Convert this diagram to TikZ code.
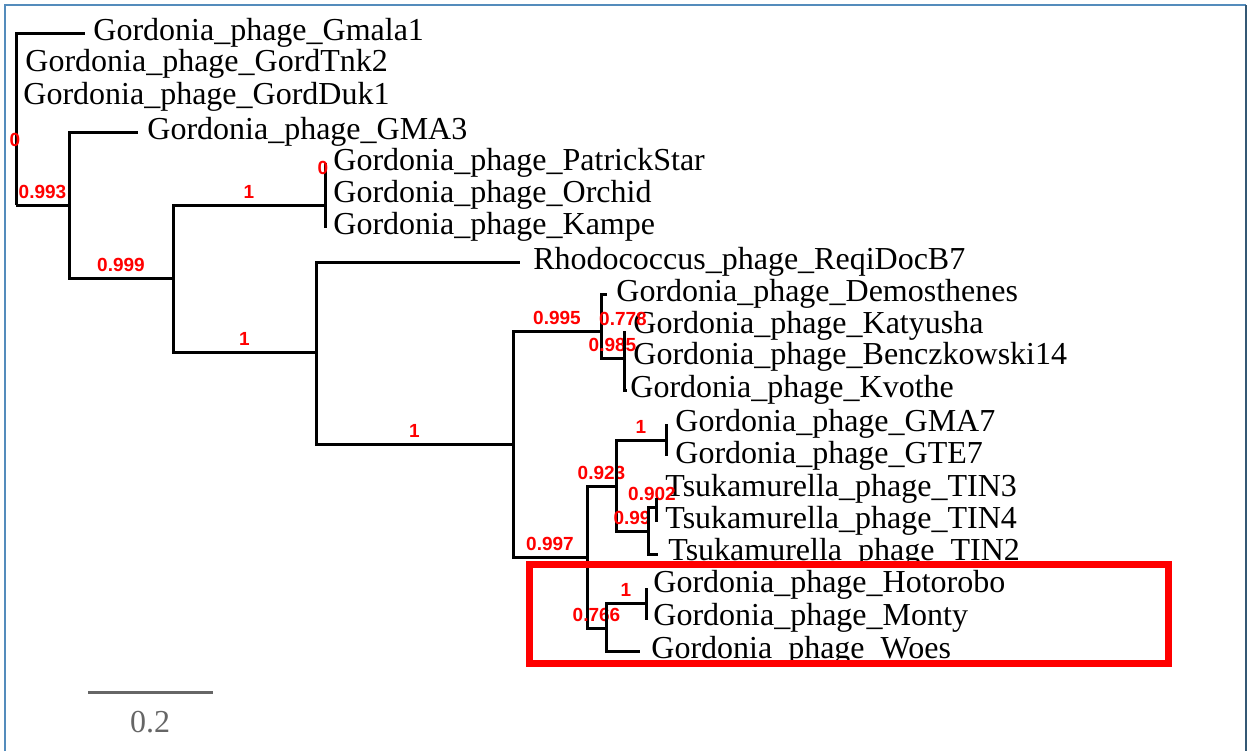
\documentclass[tikz,border=0pt]{standalone}
\usepackage{fontspec}
\setmainfont{Liberation Serif}
\newfontfamily\lblfont{Liberation Sans}
\definecolor{frameL}{RGB}{84,140,188}
\definecolor{frameR}{RGB}{52,88,116}
\definecolor{scalegray}{RGB}{102,102,102}
\begin{document}
\begin{tikzpicture}[x=0.5pt,y=-0.5pt,
  branch/.style={line width=1.5pt, black},
  leaf/.style={anchor=base west, yshift=-3.5pt, inner sep=0pt, font=\fontsize{16}{18}\selectfont},
  lblbase/.style={font=\lblfont\bfseries\fontsize{9.5}{10}\selectfont, text=red, inner sep=0pt, anchor=south},
  lbl/.style={lblbase, yshift=2.5pt},
]
\useasboundingbox (0,0) rectangle (1248,751);
% frame
\draw[frameL, line width=1pt] (5,751) -- (5,5) -- (1246,5);
\draw[frameR, line width=1pt] (1246,5) -- (1246,751);

% internal nodes
\coordinate (R) at (16,205);
\coordinate (A) at (69,205);
\coordinate (B) at (173,278);
\coordinate (C) at (325,205);
\coordinate (D) at (316,352);
\coordinate (E) at (513,444);
\coordinate (F) at (601,331);
\coordinate (H) at (624,358);
\coordinate (I) at (626,332);
\coordinate (G) at (587,557);
\coordinate (J) at (616,486);
\coordinate (K) at (606,628);
\coordinate (L) at (666,440);
\coordinate (M) at (648,531);
\coordinate (N) at (656,507);
\coordinate (O) at (646,603);

% tips
\coordinate (tGmala) at (85,33);
\coordinate (tGMA3) at (138,132);
\coordinate (tPatrick) at (325,163);
\coordinate (tKampe) at (325,228);
\coordinate (tReqi) at (520,262);
\coordinate (tDemos) at (607,294);
\coordinate (tKvothe) at (627,390);
\coordinate (tGMA7) at (666,424);
\coordinate (tGTE7) at (666,456);
\coordinate (tTIN3) at (656,498);
\coordinate (tTIN4) at (656,522);
\coordinate (tTIN2) at (658,554);
\coordinate (tHoto) at (646,588);
\coordinate (tMonty) at (646,620);
\coordinate (tWoes) at (640,651);

% leaf labels
\node[leaf] (lGmala) at (93,33) {Gordonia\_phage\_Gmala1};
\node[leaf] (lTnk) at (25,64) {Gordonia\_phage\_GordTnk2};
\node[leaf] (lDuk) at (23,97) {Gordonia\_phage\_GordDuk1};
\node[leaf] (lGMA3) at (147,132) {Gordonia\_phage\_GMA3};
\node[leaf] (lPatrick) at (333,163) {Gordonia\_phage\_PatrickStar};
\node[leaf] (lOrchid) at (333,195) {Gordonia\_phage\_Orchid};
\node[leaf] (lKampe) at (333,227) {Gordonia\_phage\_Kampe};
\node[leaf] (lReqi) at (533,262) {Rhodococcus\_phage\_ReqiDocB7};
\node[leaf] (lDemos) at (616,294) {Gordonia\_phage\_Demosthenes};
\node[leaf] (lKaty) at (633,326) {Gordonia\_phage\_Katyusha};
\node[leaf] (lBencz) at (633,357) {Gordonia\_phage\_Benczkowski14};
\node[leaf] (lKvothe) at (630,390) {Gordonia\_phage\_Kvothe};
\node[leaf] (lGMA7) at (675,424) {Gordonia\_phage\_GMA7};
\node[leaf] (lGTE7) at (675,456) {Gordonia\_phage\_GTE7};
\node[leaf] (lTIN3) at (665,489) {Tsukamurella\_phage\_TIN3};
\node[leaf] (lTIN4) at (665,521) {Tsukamurella\_phage\_TIN4};
\node[leaf] (lTIN2) at (668,553) {Tsukamurella\_phage\_TIN2};
\node[leaf] (lHoto) at (653,585) {Gordonia\_phage\_Hotorobo};
\node[leaf] (lMonty) at (653,618) {Gordonia\_phage\_Monty};
\node[leaf] (lWoes) at (651,651) {Gordonia\_phage\_Woes};

% branches
\draw[branch] (R) |- (tGmala);
\draw[branch] (R) |- (A) node[lbl, pos=0.75] {0.993};
\draw[branch] (A) |- (tGMA3);
\draw[branch] (A) |- (B) node[lbl, pos=0.75] {0.999};
\draw[branch] (B) |- (C) node[lbl, pos=0.75] {1};
\draw[branch] (B) |- (D) node[lbl, pos=0.75] {1};
\draw[branch] (C) |- (tPatrick);
\draw[branch] (C) |- (tKampe);
\draw[branch] (D) |- (tReqi);
\draw[branch] (D) |- (E) node[lbl, pos=0.75] {1};
\draw[branch] (E) |- (F) node[lbl, pos=0.75] {0.995};
\draw[branch] (E) |- (G) node[lbl, pos=0.75] {0.997};
\draw[branch] (F) |- (tDemos);
\draw[branch] (F) |- (H) node[lbl, pos=0.75] {0.985};
\draw[branch] (H) |- (I) node[lbl, pos=0.75, xshift=-1pt] {0.778};
\draw[branch] (H) |- (tKvothe);
\draw[branch] (G) |- (J) node[lbl, pos=0.75] {0.923};
\draw[branch] (G) |- (K) node[lbl, pos=0.75] {0.766};
\draw[branch] (J) |- (L) node[lbl, pos=0.75] {1};
\draw[branch] (J) |- (M) node[lbl, pos=0.75] {0.99};
\draw[branch] (L) |- (tGMA7);
\draw[branch] (L) |- (tGTE7);
\draw[branch] (M) |- (N) node[lbl, pos=0.75] {0.902};
\draw[branch] (M) |- (tTIN2);
\draw[branch] (N) |- (tTIN3);
\draw[branch] (N) |- (tTIN4);
\draw[branch] (K) |- (O) node[lbl, pos=0.75] {1};
\draw[branch] (K) |- (tWoes);
\draw[branch] (O) |- (tHoto);
\draw[branch] (O) |- (tMonty);

% zero-length branch labels
\node[lblbase] (z1) at (15,147) {0};
\node[lblbase] (z2) at (323,175) {0};

% highlight box
\draw[red, line width=3.5pt] (529.5,564.5) rectangle (1168,663.5);

% scale bar
\coordinate (sb1) at (88,692);
\coordinate (sb2) at (213,692);
\draw[scalegray, line width=1.5pt] (sb1) -- (sb2);
\node[anchor=base, inner sep=0pt, text=scalegray, font=\fontsize{16}{18}\selectfont] (sbl) at (150,732) {0.2};
\end{tikzpicture}
\end{document}
